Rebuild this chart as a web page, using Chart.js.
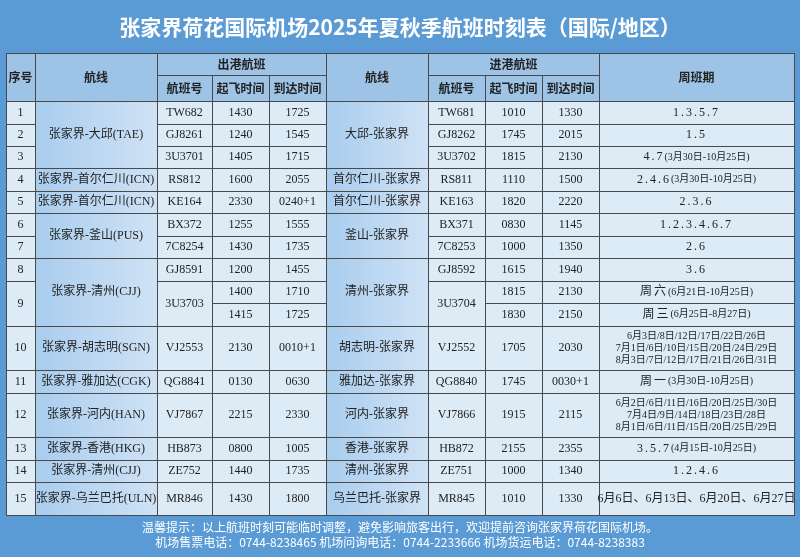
<!DOCTYPE html>
<html><head><meta charset="utf-8">
<script src="https://cdn.jsdelivr.net/npm/chart.js@4/dist/chart.umd.min.js"></script>
<style>html,body{margin:0;padding:0;background:#fff;}canvas{display:block;}</style>
</head><body>
<canvas id="c" width="800" height="557"></canvas>
<script>
const title = "张家界荷花国际机场2025年夏秋季航班时刻表（国际/地区）";
const headers = ["序号","航线","出港航班","航班号","起飞时间","到达时间","航线","进港航班","航班号","起飞时间","到达时间","周班期"];
const seqNo = ["1","2","3","4","5","6","7","8","9","10","11","12","13","14","15"];
const outRoutes = ["张家界-大邱(TAE)","张家界-首尔仁川(ICN)","张家界-首尔仁川(ICN)","张家界-釜山(PUS)","张家界-清州(CJJ)","张家界-胡志明(SGN)","张家界-雅加达(CGK)","张家界-河内(HAN)","张家界-香港(HKG)","张家界-清州(CJJ)","张家界-乌兰巴托(ULN)"];
const inRoutes = ["大邱-张家界","首尔仁川-张家界","首尔仁川-张家界","釜山-张家界","清州-张家界","胡志明-张家界","雅加达-张家界","河内-张家界","香港-张家界","清州-张家界","乌兰巴托-张家界"];
const routeSpans = [3,1,1,2,3,1,1,1,1,1,1]; // in sub-rows
const outFlights = ["TW682","GJ8261","3U3701","RS812","KE164","BX372","7C8254","GJ8591","3U3703","VJ2553","QG8841","VJ7867","HB873","ZE752","MR846"];
const inFlights  = ["TW681","GJ8262","3U3702","RS811","KE163","BX371","7C8253","GJ8592","3U3704","VJ2552","QG8840","VJ7866","HB872","ZE751","MR845"];
const outDep = ["1430","1240","1405","1600","2330","1255","1430","1200","1400","1415","2130","0130","2215","0800","1440","1430"];
const outArr = ["1725","1545","1715","2055","0240+1","1555","1735","1455","1710","1725","0010+1","0630","2330","1005","1735","1800"];
const inDep  = ["1010","1745","1815","1110","1820","0830","1000","1615","1815","1830","1705","1745","1915","2155","1000","1010"];
const inArr  = ["1330","2015","2130","1500","2220","1145","1350","1940","2130","2150","2030","0030+1","2115","2355","1340","1330"];
const schedule = ["1.3.5.7","1.5","4.7(3月30日-10月25日)","2.4.6(3月30日-10月25日)","2.3.6","1.2.3.4.6.7","2.6","3.6","周六(6月21日-10月25日)","周三(6月25日-8月27日)",
 "6月3日/8日/12日/17日/22日/26日\n7月1日/6日/10日/15日/20日/24日/29日\n8月3日/7日/12日/17日/21日/26日/31日",
 "周一(3月30日-10月25日)",
 "6月2日/6日/11日/16日/20日/25日/30日\n7月4日/9日/14日/18日/23日/28日\n8月1日/6日/11日/15日/20日/25日/29日",
 "3.5.7(4月15日-10月25日)","1.2.4.6","6月6日、6月13日、6月20日、6月27日"];
const footer = ["温馨提示：以上航班时刻可能临时调整，避免影响旅客出行，欢迎提前咨询张家界荷花国际机场。","机场售票电话：0744-8238465 机场问询电话：0744-2233666 机场货运电话：0744-8238383"];

// layout (positions)
const colX = [6,35,157,212,269,326,428,485,542,599,794];
const rowY = [101,124,146,168,191,213,236,258,281,303,326,370,393,437,460,482,515];
const seqSpans = [1,1,1,1,1,1,1,1,2,1,1,1,1,1,1];
const FONT = '"Liberation Serif","Noto Sans CJK SC",serif';
const FONTB = '"Noto Sans CJK SC",sans-serif';

const tablePlugin = {
  id:'table',
  afterDraw(chart){
    const ctx = chart.ctx, xs = chart.scales.x, ys = chart.scales.y;
    const X = v=>xs.getPixelForValue(v), Y = v=>ys.getPixelForValue(v);
    ctx.save();
    ctx.fillStyle = '#5b9bd5'; ctx.fillRect(X(0),Y(0),X(800)-X(0),Y(557)-Y(0));
    ctx.fillStyle='#fff'; ctx.font='bold 21px '+FONTB; ctx.textAlign='center'; ctx.textBaseline='middle';
    ctx.fillText(title, X(400), Y(27));
    function cell(c0,c1,y0,y1,fill,text,opts={}){
      const x0=X(colX[c0]),x1=X(colX[c1]),yy0=Y(y0),yy1=Y(y1);
      if(fill.grad){const g=ctx.createLinearGradient(x0,0,x1,0);g.addColorStop(0,fill.grad[0]);g.addColorStop(1,fill.grad[1]);ctx.fillStyle=g;} else ctx.fillStyle=fill;
      ctx.fillRect(x0,yy0,x1-x0,yy1-yy0);
      ctx.strokeStyle='#4a4a4a'; ctx.lineWidth=1; ctx.strokeRect(x0+0.5,yy0+0.5,x1-x0,yy1-yy0);
      if(text==null) return;
      ctx.fillStyle='#222'; ctx.textAlign='center'; ctx.textBaseline='middle';
      const cx=(x0+x1)/2, cy=(yy0+yy1)/2;
      if(opts.bold){ctx.font='bold 12px '+FONTB; ctx.fillText(text,cx,cy); return;}
      if(text.includes('\n')){const ls=text.split('\n');ctx.font='10px '+FONT;ls.forEach((l,i)=>ctx.fillText(l,cx,cy+(i-(ls.length-1)/2)*12));return;}
      const p=opts.sched?text.indexOf('('):-1;
      if(opts.sched) ctx.letterSpacing='2px';
      if(p>0){const a=text.slice(0,p),b=text.slice(p);ctx.font='12px '+FONT;const wa=ctx.measureText(a).width;ctx.letterSpacing='0px';ctx.font='10px '+FONT;const wb=ctx.measureText(b).width;
        let sx=cx-(wa+wb)/2;ctx.textAlign='left';ctx.letterSpacing='2px';ctx.font='12px '+FONT;ctx.fillText(a,sx,cy);ctx.letterSpacing='0px';ctx.font='10px '+FONT;ctx.fillText(b,sx+wa,cy);return;}
      ctx.font=(opts.size||12)+'px '+FONT; ctx.fillText(text,cx,cy);
      ctx.letterSpacing='0px';
    }
    const H='#9dc3e6', D='#ddebf7', R={grad:['#a9cdee','#cfe2f5']};
    cell(0,1,53,101,H,headers[0],{bold:1}); cell(1,2,53,101,H,headers[1],{bold:1});
    cell(2,5,53,75,H,headers[2],{bold:1}); cell(2,3,75,101,H,headers[3],{bold:1}); cell(3,4,75,101,H,headers[4],{bold:1}); cell(4,5,75,101,H,headers[5],{bold:1});
    cell(5,6,53,101,H,headers[6],{bold:1});
    cell(6,9,53,75,H,headers[7],{bold:1}); cell(6,7,75,101,H,headers[8],{bold:1}); cell(7,8,75,101,H,headers[9],{bold:1}); cell(8,9,75,101,H,headers[10],{bold:1});
    cell(9,10,53,101,H,headers[11],{bold:1});
    let r=0; seqNo.forEach((s,i)=>{const n=seqSpans[i];
      cell(0,1,rowY[r],rowY[r+n],D,s);
      cell(2,3,rowY[r],rowY[r+n],D,outFlights[i]);
      cell(6,7,rowY[r],rowY[r+n],D,inFlights[i]); r+=n;});
    r=0; routeSpans.forEach((n,i)=>{cell(1,2,rowY[r],rowY[r+n],R,outRoutes[i]);cell(5,6,rowY[r],rowY[r+n],R,inRoutes[i]);r+=n;});
    for(let k=0;k<rowY.length-1;k++){
      cell(3,4,rowY[k],rowY[k+1],D,outDep[k]); cell(4,5,rowY[k],rowY[k+1],D,outArr[k]);
      cell(7,8,rowY[k],rowY[k+1],D,inDep[k]); cell(8,9,rowY[k],rowY[k+1],D,inArr[k]);
      cell(9,10,rowY[k],rowY[k+1],D,schedule[k],{sched: k!==15, size:12});
    }
    ctx.letterSpacing='0px';
    ctx.fillStyle='#fff'; ctx.font='12px '+FONTB; ctx.textAlign='center';
    ctx.fillText(footer[0],X(400),Y(527)); ctx.fillText(footer[1],X(400),Y(542));
    ctx.restore();
  }
};
new Chart(document.getElementById('c'),{
  type:'scatter',
  data:{datasets:[{data:[]}]},
  options:{responsive:false,animation:false,layout:{padding:0},
    plugins:{legend:{display:false},tooltip:{enabled:false}},
    scales:{x:{type:'linear',min:0,max:800,display:false},y:{type:'linear',min:0,max:557,reverse:true,display:false}}},
  plugins:[tablePlugin]
});
</script></body></html>
